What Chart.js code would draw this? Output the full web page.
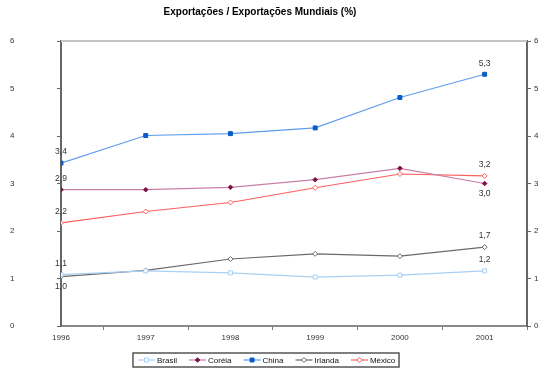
<!DOCTYPE html>
<html><head><meta charset="utf-8">
<script src="https://cdn.jsdelivr.net/npm/chart.js@4"></script>
<style>html,body{margin:0;padding:0;background:#fff}#wrap{width:550px;height:371px;position:relative}</style>
</head><body><div id="wrap"><canvas id="c" width="550" height="371"></canvas></div>
<script>
const years = [1996, 1997, 1998, 1999, 2000, 2001];
const seriesNames = ['Brasil', 'Coréia', 'China', 'Irlanda', 'México'];
const brasil  = [1.08, 1.16, 1.12, 1.03, 1.07, 1.16];
const coreia  = [2.87, 2.87, 2.92, 3.08, 3.32, 3.00];
const china   = [3.43, 4.01, 4.05, 4.17, 4.81, 5.30];
const irlanda = [1.04, 1.17, 1.41, 1.52, 1.47, 1.66];
const mexico  = [2.17, 2.41, 2.60, 2.91, 3.20, 3.16];
const yTicks = [0, 1, 2, 3, 4, 5, 6];
const titleText = 'Exportações / Exportações Mundiais (%)';

const seriesValues = [brasil, coreia, china, irlanda, mexico];
const styles = [
  {line:'#a9cff5', stroke:'#a9cff5', fill:'#ffffff', shape:'rect', r:2.8},
  {line:'#c97fa5', stroke:'#80104a', fill:'#80104a', shape:'rectRot', r:2.3},
  {line:'#5f9ded', stroke:'#0a5cc8', fill:'#0a5cc8', shape:'rect', r:2.8},
  {line:'#6a6a6a', stroke:'#6a6a6a', fill:'#ffffff', shape:'rectRot', r:2.5},
  {line:'#ff5e5e', stroke:'#ff5e5e', fill:'#ffffff', shape:'rectRot', r:2.5}
];
// which points carry a value label: [series index, point index, side]
const labelSpecs = [
  [2,0,'up'],[2,5,'up'],[1,0,'up'],[1,5,'down'],[4,0,'up'],[4,5,'up'],
  [0,0,'up'],[3,0,'down'],[3,5,'up'],[0,5,'up']
];
const FONT = 'Liberation Sans, Arial, sans-serif';

const datasets = seriesNames.map((n,i)=>({
  label: n,
  data: years.map((y,j)=>({x:y, y:seriesValues[i][j]})),
  borderColor: styles[i].line,
  borderWidth: 1.2,
  pointStyle: styles[i].shape,
  pointRadius: styles[i].r,
  pointBorderColor: styles[i].stroke,
  pointBackgroundColor: styles[i].fill,
  pointBorderWidth: 1,
  tension: 0,
  yAxisID: 'y'
}));

const extras = {
  id:'extras',
  beforeDatasetsDraw(chart){
    const {ctx, chartArea:a} = chart;
    ctx.save();
    ctx.strokeStyle = '#c4c4c4'; ctx.lineWidth = 2;
    ctx.beginPath(); ctx.moveTo(a.left, a.top); ctx.lineTo(a.right, a.top); ctx.stroke();
    ctx.restore();
  },
  afterDatasetsDraw(chart){
    const ctx = chart.ctx;
    ctx.save();
    ctx.font = '8.5px ' + FONT;
    ctx.fillStyle = '#333';
    ctx.textAlign = 'center'; ctx.textBaseline = 'middle';
    labelSpecs.forEach(([s,i,side])=>{
      const el = chart.getDatasetMeta(s).data[i];
      const txt = seriesValues[s][i].toFixed(1).replace('.', ',');
      ctx.fillText(txt, el.x, el.y + (side==='up' ? -11 : 10));
    });
    ctx.restore();
  },
  afterDraw(chart){
    const ctx = chart.ctx;
    ctx.save();
    // title
    ctx.font = 'bold 10px ' + FONT;
    ctx.fillStyle = '#000';
    ctx.textAlign = 'center'; ctx.textBaseline = 'middle';
    ctx.fillText(titleText, 260, 12);
    // legend
    ctx.font = '8px ' + FONT;
    const bx = 133, by = 353, bw = 266, bh = 14;
    ctx.strokeStyle = '#555'; ctx.lineWidth = 1.5;
    ctx.strokeRect(bx, by, bw, bh);
    let x = 138; const cy = by + bh/2;
    ctx.textAlign = 'left';
    seriesNames.forEach((n,i)=>{
      const st = styles[i];
      ctx.strokeStyle = st.line; ctx.lineWidth = 1.2;
      ctx.beginPath(); ctx.moveTo(x, cy); ctx.lineTo(x+17, cy); ctx.stroke();
      ctx.fillStyle = st.fill; ctx.strokeStyle = st.stroke; ctx.lineWidth = 1;
      Chart.helpers.drawPoint(ctx, {pointStyle: st.shape, radius: st.r, borderWidth: 1, rotation: 0}, x+8.5, cy);
      ctx.fillStyle = '#111';
      ctx.fillText(n, x+19, cy+0.5);
      x += 19 + ctx.measureText(n).width + 12;
    });
    ctx.restore();
  }
};

new Chart(document.getElementById('c'), {
  type: 'line',
  data: { datasets },
  plugins: [extras],
  options: {
    responsive: false,
    animation: false,
    layout: { padding: { top: 41, bottom: 25, left: 10, right: 0 } },
    plugins: { legend: { display: false }, tooltip: { enabled: false }, title: { display: false } },
    scales: {
      x: {
        type: 'linear', min: 1996, max: 2001.5,
        afterFit(s){ s.height = 20; },
        afterBuildTicks(s){ const t=[]; years.forEach(y=>{t.push({value:y}); t.push({value:y+0.5});}); s.ticks = t; },
        ticks: {
          autoSkip: false, maxRotation: 0, padding: 3,
          font: { family: FONT, size: 8 }, color: '#333',
          callback: v => Number.isInteger(v) ? String(v) : ''
        },
        grid: {
          drawOnChartArea: false, tickLength: 4,
          tickColor: c => (c.tick && Number.isInteger(c.tick.value)) ? 'rgba(0,0,0,0)' : '#777'
        },
        border: { color: '#8a8a8a', width: 2 }
      },
      y: {
        position: 'left', min: 0, max: 6,
        afterFit(s){ s.width = 51; },
        afterBuildTicks(s){ s.ticks = yTicks.map(v=>({value:v})); },
        ticks: { padding: 3, crossAlign: 'far', font: { family: FONT, size: 8 }, color: '#333' },
        grid: { drawOnChartArea: false, tickLength: 4, tickColor: '#666' },
        border: { color: '#666', width: 2 }
      },
      y2: {
        position: 'right', min: 0, max: 6,
        afterFit(s){ s.width = 23; },
        afterBuildTicks(s){ s.ticks = yTicks.map(v=>({value:v})); },
        ticks: { padding: 3, font: { family: FONT, size: 8 }, color: '#333' },
        grid: { drawOnChartArea: false, tickLength: 4, tickColor: '#666' },
        border: { color: '#666', width: 2 }
      }
    }
  }
});
</script>
</body></html>
